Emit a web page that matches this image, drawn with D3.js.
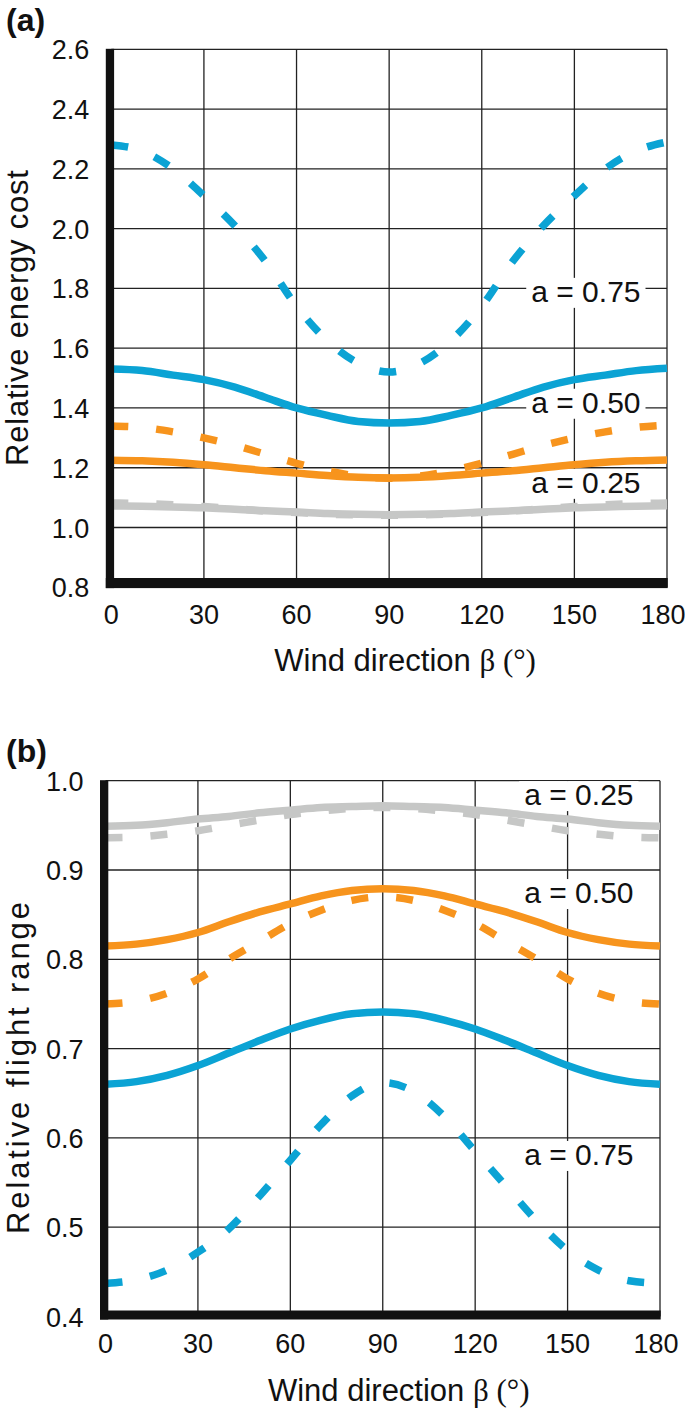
<!DOCTYPE html>
<html><head><meta charset="utf-8">
<script src="https://cdn.jsdelivr.net/npm/d3@7"></script>
<style>body{margin:0;background:#fff}svg{display:block}</style>
</head><body><script>
// ---------- data ----------
const beta = [0,10,20,30,40,50,60,70,80,90,100,110,120,130,140,150,160,170,180];
const xTicks = [0,30,60,90,120,150,180];
const yTicksA = [0.8,1.0,1.2,1.4,1.6,1.8,2.0,2.2,2.4,2.6];
const yTicksB = [0.4,0.5,0.6,0.7,0.8,0.9,1.0];

// (a) Relative energy cost
const costBlueDash   = [2.28,2.26,2.20,2.11,2.01,1.89,1.74,1.625,1.55,1.52,1.55,1.625,1.74,1.89,2.01,2.11,2.20,2.26,2.29];
const costBlueSolid  = [1.53,1.525,1.51,1.495,1.47,1.435,1.40,1.375,1.355,1.35,1.355,1.375,1.40,1.435,1.47,1.495,1.51,1.525,1.533];
const costOrangeDash = [1.34,1.335,1.32,1.30,1.275,1.245,1.215,1.19,1.172,1.165,1.172,1.19,1.215,1.245,1.275,1.30,1.32,1.335,1.343];
const costOrangeSolid= [1.225,1.223,1.218,1.21,1.20,1.19,1.182,1.174,1.168,1.166,1.168,1.174,1.182,1.19,1.20,1.21,1.218,1.223,1.226];
const costGrayDash   = [1.082,1.08,1.076,1.07,1.063,1.055,1.05,1.045,1.042,1.041,1.042,1.045,1.05,1.055,1.063,1.07,1.076,1.08,1.082];
const costGraySolid  = [1.072,1.071,1.069,1.066,1.061,1.056,1.052,1.047,1.044,1.043,1.044,1.047,1.052,1.056,1.061,1.066,1.069,1.071,1.073];

// (b) Relative flight range
const rangeGrayDash   = [0.936,0.937,0.94,0.944,0.95,0.956,0.962,0.966,0.969,0.97,0.969,0.966,0.962,0.956,0.95,0.944,0.94,0.937,0.936];
const rangeGraySolid  = [0.949,0.95,0.953,0.957,0.96,0.964,0.967,0.97,0.971,0.972,0.971,0.97,0.967,0.964,0.96,0.957,0.953,0.95,0.949];
const rangeOrangeSolid= [0.815,0.817,0.822,0.83,0.842,0.853,0.862,0.871,0.877,0.879,0.877,0.871,0.862,0.853,0.842,0.83,0.822,0.817,0.815];
const rangeOrangeDash = [0.75,0.753,0.762,0.778,0.80,0.82,0.84,0.855,0.866,0.87,0.866,0.855,0.84,0.82,0.80,0.778,0.762,0.753,0.75];
const rangeBlueSolid  = [0.66,0.663,0.67,0.681,0.695,0.709,0.722,0.732,0.739,0.741,0.739,0.732,0.722,0.709,0.695,0.681,0.67,0.663,0.66];
const rangeBlueDash   = [0.437,0.441,0.452,0.472,0.498,0.535,0.575,0.615,0.647,0.662,0.652,0.624,0.585,0.546,0.507,0.474,0.452,0.44,0.437];

const labelsA = ["a = 0.75","a = 0.50","a = 0.25"];
const labelPosA = [1.755,1.384,1.116];
const labelsB = ["a = 0.25","a = 0.50","a = 0.75"];
const labelPosB = [0.9727,0.863,0.5697];

// ---------- drawing ----------
const W = 685, H = 1413;
const FONT = "'Liberation Sans', Arial, Helvetica, sans-serif";
const COL = {blue:"#0ba3d4", orange:"#f7941d", gray:"#c6c7c6"};
const svg = d3.select("body").append("svg").attr("width",W).attr("height",H);

function panel(cfg){
  const x = d3.scaleLinear().domain([0,180]).range(cfg.xr);
  const y = d3.scaleLinear().domain(cfg.yd).range(cfg.yr);
  const g = svg.append("g");
  const x0 = x(0), x1 = x(180), yb = y(cfg.yd[0]), yt = y(cfg.yd[1]);

  // grid
  g.append("g").selectAll("line").data(cfg.yTicks).join("line")
    .attr("x1",x0).attr("x2",x1).attr("y1",d=>y(d)).attr("y2",d=>y(d))
    .attr("stroke","#222").attr("stroke-width",1.3);
  g.append("g").selectAll("line").data(xTicks.slice(1)).join("line")
    .attr("x1",d=>x(d)).attr("x2",d=>x(d)).attr("y1",yt).attr("y2",yb)
    .attr("stroke","#222").attr("stroke-width",1.3);

  const boxG = g.append("g");
  const lg = g.append("g").attr("fill","none").attr("stroke-width",7.5);
  const lab = g.append("g");

  // legend labels with white boxes behind (boxes cover grid, lines drawn over)
  lab.selectAll("text").data(cfg.labels).join("text")
    .attr("x",x1-26.5).attr("y",(d,i)=>y(cfg.labelPos[i]))
    .attr("text-anchor","end").attr("font-family",FONT).attr("font-size",30)
    .attr("fill","#111").text(d=>d)
    .each(function(){
      const b = this.getBBox();
      boxG.append("rect").attr("x",b.x-5).attr("y",b.y+3).attr("width",b.width+10)
        .attr("height",b.height-3).attr("fill","#fff");
    });

  // lines
  const line = d3.line().x((d,i)=>x(beta[i])).y(d=>y(d)).curve(d3.curveMonotoneX);
  cfg.series.forEach(s=>{
    lg.append("path").attr("d",line(s.v)).attr("stroke",COL[s.c])
      .attr("stroke-dasharray",s.dash?"17,28":null);
  });

  // thick axes
  g.append("rect").attr("x",x0-5.5).attr("y",yt-0.5).attr("width",8.3).attr("height",yb-yt+cfg.bb[1]+0.5).attr("fill","#111");
  g.append("rect").attr("x",x0-5.5).attr("y",yb+cfg.bb[0]).attr("width",x1-x0+6.2).attr("height",cfg.bb[1]-cfg.bb[0]).attr("fill","#111");

  // tick labels
  g.append("g").selectAll("text").data(xTicks).join("text")
    .attr("x",d=>x(d)).attr("dx",d=>d===180?-4:0).attr("y",yb+36.5).attr("text-anchor","middle")
    .attr("font-family",FONT).attr("font-size",27).attr("fill","#111").text(d=>d);
  g.append("g").selectAll("text").data(cfg.yTicks).join("text")
    .attr("x",x0-22).attr("y",d=>y(d)+10).attr("text-anchor","end")
    .attr("font-family",FONT).attr("font-size",27).attr("fill","#111").text(d3.format(".1f"));

  // axis titles
  const xt = g.append("text").attr("x",(x0+x1)/2+16).attr("y",yb+84).attr("text-anchor","middle")
    .attr("font-family",FONT).attr("font-size",31).attr("fill","#111");
  xt.append("tspan").text("Wind direction ");
  xt.append("tspan").attr("font-family","'Liberation Serif', 'Times New Roman', serif").text("β (°)");
  g.append("text").attr("transform",`translate(${cfg.ytx},${cfg.yty}) rotate(-90)`)
    .attr("text-anchor","middle").attr("font-family",FONT).attr("font-size",31).attr("fill","#111")
    .attr("textLength",cfg.ytl).attr("lengthAdjust","spacing")
    .text(cfg.ytitle);
  g.append("text").attr("x",6).attr("y",cfg.ply).attr("font-family",FONT).attr("font-size",32)
    .attr("font-weight","bold").attr("fill","#111").text(cfg.pl);
}

panel({
  xr:[111.3,667], yd:[0.8,2.6], yr:[587.3,49.3], yTicks:yTicksA, bb:[-9.3,0.8],
  labels:labelsA, labelPos:labelPosA, ytitle:"Relative energy cost", ytx:28, yty:318, ytl:296,
  pl:"(a)", ply:31,
  series:[
    {v:costGrayDash,c:"gray",dash:true},{v:costGraySolid,c:"gray"},
    {v:costOrangeDash,c:"orange",dash:true},{v:costOrangeSolid,c:"orange"},
    {v:costBlueDash,c:"blue",dash:true},{v:costBlueSolid,c:"blue"}]
});
panel({
  xr:[105.5,660], yd:[0.4,1.0], yr:[1316.5,780.7], yTicks:yTicksB, bb:[-6,3],
  labels:labelsB, labelPos:labelPosB, ytitle:"Relative flight range", ytx:29, yty:1068, ytl:332,
  pl:"(b)", ply:762,
  series:[
    {v:rangeGrayDash,c:"gray",dash:true},{v:rangeGraySolid,c:"gray"},
    {v:rangeOrangeDash,c:"orange",dash:true},{v:rangeOrangeSolid,c:"orange"},
    {v:rangeBlueDash,c:"blue",dash:true},{v:rangeBlueSolid,c:"blue"}]
});
</script></body></html>
